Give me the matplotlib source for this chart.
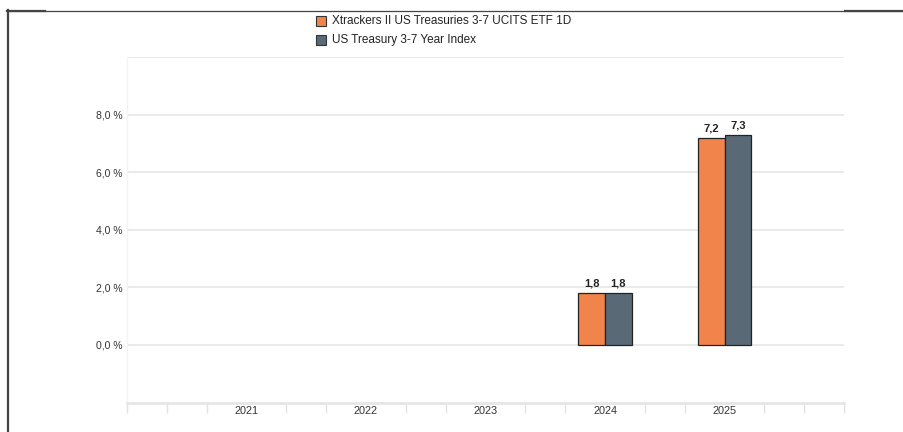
import matplotlib
matplotlib.use("Agg")
import matplotlib.pyplot as plt
from matplotlib.patches import Rectangle
from matplotlib.lines import Line2D
import numpy as np

plt.rcParams['font.family'] = ['Liberation Sans', 'DejaVu Sans']

years = [2021, 2022, 2023, 2024, 2025]
series_names = ["Xtrackers II US Treasuries 3-7 UCITS ETF 1D", "US Treasury 3-7 Year Index"]
fund_values = [np.nan, np.nan, np.nan, 1.8, 7.2]
index_values = [np.nan, np.nan, np.nan, 1.8, 7.3]
series_colors = ["#F0844A", "#596A76"]
y_ticks = [0, 2, 4, 6, 8]

W, H = 904, 432
fig = plt.figure(figsize=(W / 100, H / 100), dpi=100)
fig.patch.set_facecolor("white")

# axes placement (pixel-based)
left, right, top, bottom = 127, 844, 57, 402.5
ax = fig.add_axes([left / W, 1 - bottom / H, (right - left) / W, (bottom - top) / H])
ax.set_xlim(2020, 2026)
ax.set_ylim(-2, 10)

bw = 0.225
x = np.array(years, dtype=float)
for vals, color, off in [(fund_values, series_colors[0], -bw / 2), (index_values, series_colors[1], bw / 2)]:
    v = np.array(vals, dtype=float)
    mask = ~np.isnan(v)
    ax.bar(x[mask] + off, v[mask], width=bw, color=color, edgecolor="#222222", linewidth=0.9, zorder=3)
    for xi, vi in zip(x[mask] + off, v[mask]):
        ax.text(xi, vi + 0.15, f"{vi:.1f}".replace(".", ","), ha="center", va="bottom",
                fontsize=8, fontweight="bold", color="#222222", zorder=4)

# gridlines
for g in [0, 2, 4, 6, 8, 10]:
    ax.axhline(g, color="#e8e8e8", linewidth=1.3, zorder=1)

ax.set_yticks(y_ticks)
ax.set_yticklabels([f"{t:.1f}".replace(".", ",") + " %" for t in y_ticks])
ax.tick_params(axis="y", length=0, pad=3, labelsize=7.5, labelcolor="#333333")

ax.set_xticks(years)
ax.set_xticklabels([str(y) for y in years])
ax.tick_params(axis="x", length=0, pad=2.2, labelsize=7.8, labelcolor="#333333")
minor = [2020 + k / 3 for k in range(19)]
minor = [m for m in minor if min(abs(m - yy) for yy in years) > 0.05]
ax.set_xticks(minor, minor=True)
ax.tick_params(axis="x", which="minor", length=7, width=1, color="#e2e2e2", direction="out")

for s in ["top", "right"]:
    ax.spines[s].set_visible(False)
ax.spines["left"].set_color("#f3f3f3")
ax.spines["left"].set_linewidth(1.0)
ax.spines["bottom"].set_color("#e6e6e6")
ax.spines["bottom"].set_linewidth(2.0)
ax.set_facecolor("white")

# legend (manual)
leg_x = 321
leg_rows = [21, 40]
for name, color, yy in zip(series_names, series_colors, leg_rows):
    fig.patches.append(Rectangle(((leg_x - 5) / W, 1 - (yy + 5) / H), 10 / W, 10 / H,
                                 transform=fig.transFigure, facecolor=color,
                                 edgecolor="#333333", linewidth=0.8))
    fig.text((leg_x + 11) / W, 1 - yy / H, name, ha="left", va="center",
             fontsize=8.5, color="#222222")

# partial frame
frame_color = "#444444"
fig.add_artist(Line2D([7 / W, 1], [1 - 10.5 / H, 1 - 10.5 / H], transform=fig.transFigure,
                      color=frame_color, linewidth=0.9))
fig.add_artist(Line2D([7 / W, 45 / W], [1 - 11 / H, 1 - 11 / H], transform=fig.transFigure,
                      color=frame_color, linewidth=1.6))
fig.add_artist(Line2D([845 / W, 1], [1 - 11 / H, 1 - 11 / H], transform=fig.transFigure,
                      color=frame_color, linewidth=1.6))
fig.add_artist(Line2D([7.5 / W, 7.5 / W], [1 - 10 / H, 0], transform=fig.transFigure,
                      color=frame_color, linewidth=1.6))

fig.savefig("out.png", dpi=100, facecolor="white")
